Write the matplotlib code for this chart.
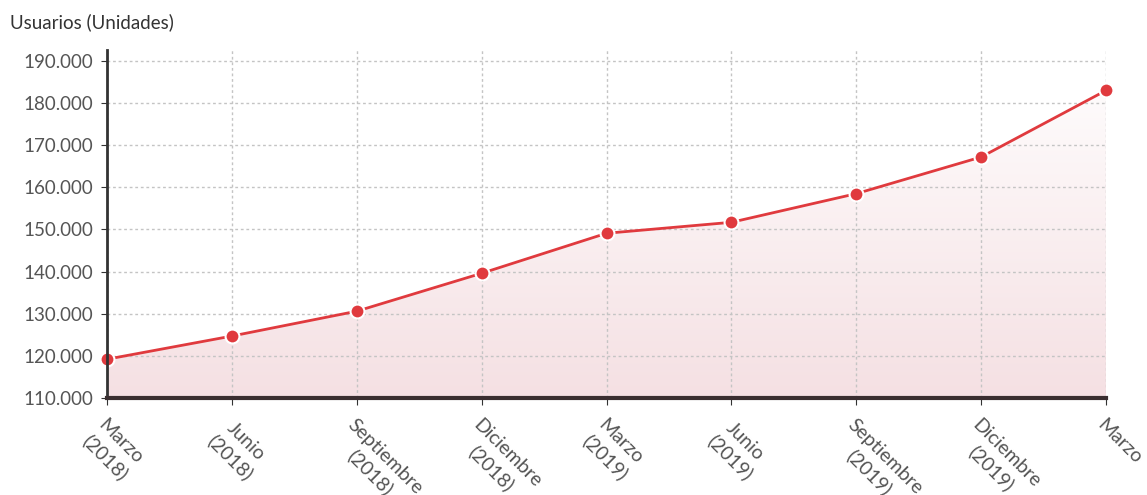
import matplotlib.pyplot as plt
import numpy as np
from matplotlib.ticker import FuncFormatter
from matplotlib.colors import LinearSegmentedColormap

plt.rcParams['font.family'] = ['Lato', 'DejaVu Sans']

# data (miles de usuarios)
periodos = ['Marzo\n(2018)', 'Junio\n(2018)', 'Septiembre\n(2018)', 'Diciembre\n(2018)',
            'Marzo\n(2019)', 'Junio\n(2019)', 'Septiembre\n(2019)', 'Diciembre\n(2019)',
            'Marzo']
usuarios = [119.2, 124.7, 130.6, 139.6, 149.1, 151.7, 158.5, 167.2, 183.0]

rojo = '#e03a3e'
gris = '#555555'

fig = plt.figure(figsize=(11.47, 4.95), dpi=100)
ax = fig.add_axes([0.0933, 0.196, 0.8710, 0.703])

x = np.arange(len(usuarios))
ymin, ymax = 110, 192.6

# gradient fill under the line
grad = np.linspace(0, 1, 256).reshape(-1, 1)
cmap = LinearSegmentedColormap.from_list('f', ['#f5e0e3', '#ffffff'])
im = ax.imshow(grad, extent=[x[0], x[-1], ymin, ymax], origin='lower',
               aspect='auto', cmap=cmap, zorder=1)
poly = ax.fill_between(x, usuarios, ymin, color='none')
clip = poly.get_paths()[0]
im.set_clip_path(clip, transform=ax.transData)

ax.plot(x, usuarios, color=rojo, lw=2, zorder=3,
        marker='o', ms=10, markerfacecolor=rojo, markeredgecolor='white',
        markeredgewidth=1.5, clip_on=False)

ax.set_xlim(x[0], x[-1])
ax.set_ylim(ymin, ymax)
ax.set_yticks(np.arange(110, 191, 10))
ax.yaxis.set_major_formatter(FuncFormatter(lambda v, p: f'{int(v)}.000'))
ax.set_xticks(x)
ax.set_xticklabels(periodos, rotation=-45, ha='left', rotation_mode='anchor',
                   multialignment='center', linespacing=1.3)

ax.grid(True, color='#c4c4c4', ls=(0, (2, 2)), lw=1)
for s in ['top', 'right']:
    ax.spines[s].set_visible(False)
ax.spines['left'].set_color('#333333')
ax.spines['left'].set_linewidth(2)
ax.spines['bottom'].set_color('#3a2e30')
ax.spines['bottom'].set_linewidth(3)
ax.spines['left'].set_zorder(4)
ax.spines['bottom'].set_zorder(4)

ax.tick_params(axis='y', labelsize=13.5, labelcolor=gris, length=4, color='#333333', pad=6)
ax.tick_params(axis='x', labelsize=14, labelcolor=gris, length=5, color='#333333', pad=8)

fig.text(0.009, 0.955, 'Usuarios (Unidades)', fontsize=13.5, color='#333333',
         ha='left', va='center')

fig.savefig('out.png', dpi=100)
